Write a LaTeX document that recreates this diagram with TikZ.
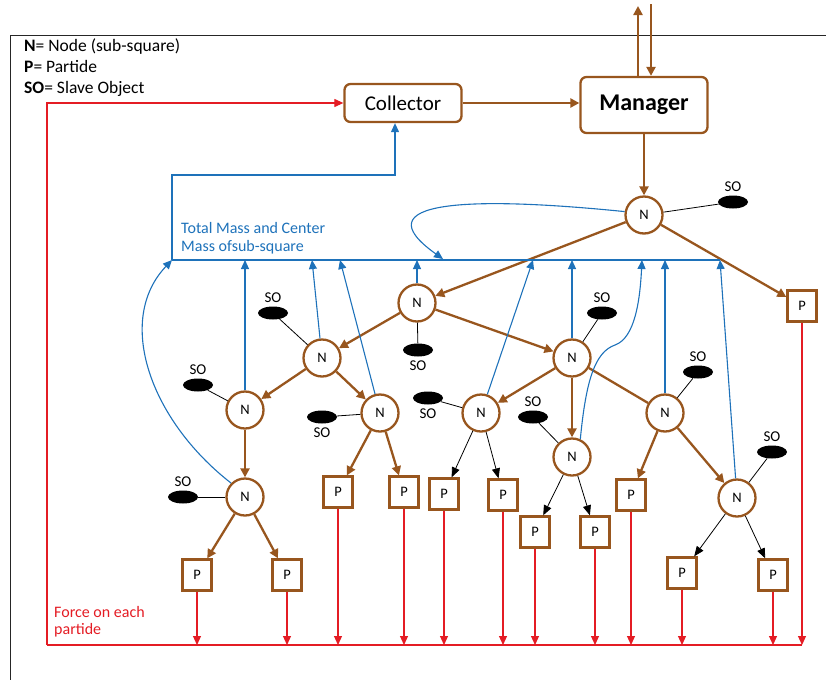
\documentclass[tikz,border=0pt]{standalone}
\usepackage{fontspec}
\setmainfont{Carlito}
\usetikzlibrary{arrows.meta,shapes.geometric}

\definecolor{nodeBrown}{RGB}{152,86,30}
\definecolor{massBlue}{RGB}{30,114,186}
\definecolor{forceRed}{RGB}{228,28,36}

\tikzset{
	treeNode/.style={circle, draw=nodeBrown, line width=2.3pt, fill=white, minimum size=37pt, inner sep=0pt, font=\fontsize{14.5}{14.5}\selectfont},
	partBox/.style={rectangle, draw=nodeBrown, line width=2.3pt, fill=white, minimum width=29pt, minimum height=31pt, inner sep=0pt, font=\fontsize{14.5}{14.5}\selectfont},
	slaveBlob/.style={ellipse, fill=black, minimum width=30pt, minimum height=13pt, inner sep=0pt},
	slaveLabel/.style={font=\fontsize{15}{15}\selectfont, inner sep=0pt},
	slaveLine/.style={draw=black, line width=0.8pt},
	brownArrow/.style={draw=nodeBrown, line width=2.3pt, -{Triangle[length=9pt,width=9pt]}},
	brownLine/.style={draw=nodeBrown, line width=2.3pt},
	blackArrow/.style={draw=black, line width=0.8pt, -{Triangle[length=10pt,width=8pt]}},
	blueArrow/.style={draw=massBlue, line width=1.1pt, -{Triangle[length=9pt,width=8pt]}},
	redArrow/.style={draw=forceRed, line width=1.1pt, -{Triangle[length=9pt,width=8pt]}},
	mainBox/.style={rectangle, rounded corners=6pt, draw=nodeBrown, line width=2.3pt, fill=white}
}

\begin{document}
\begin{tikzpicture}[x=1pt, y=-1pt]
	\useasboundingbox (0,0) rectangle (826,680);
	\draw[line width=0.9pt, black!85] (826,35) -- (10,35) -- (10,680);

	% legend
	\node[anchor=north west, align=left, inner sep=0pt, font=\fontsize{17.5}{21}\selectfont](legend) at (24,38){\textbf{N}= Node (sub-square)\\\textbf{P}= Partide\\\textbf{SO}= Slave Object};

	% draw collector and manager
	\node[mainBox, minimum width=117pt, minimum height=38pt, font=\fontsize{21}{21}\selectfont](collector) at (403,103){Collector};
	\node[mainBox, minimum width=127pt, minimum height=56pt, font=\fontsize{24}{24}\selectfont\bfseries](manager) at (644,105){Manager};
	\coordinate(outTop) at (638,6);
	\coordinate(inTop) at (651,4);
	\draw[brownArrow] (manager.north -| outTop) -- (outTop);
	\draw[brownArrow] (inTop) -- (manager.north -| inTop);
	\draw[brownArrow] (collector.east) -- (collector.east -| manager.west);

	% draw N nodes
	\node[treeNode](n0) at (644,215){N};
	\node[treeNode](n1) at (417,303){N};
	\node[treeNode](n2) at (322,358){N};
	\node[treeNode](n3) at (572,358){N};
	\node[treeNode](n4) at (245,410){N};
	\node[treeNode](n5) at (245,497){N};
	\node[treeNode](n6) at (380,413){N};
	\node[treeNode](n7) at (481,413){N};
	\node[treeNode](n8) at (572,457){N};
	\node[treeNode](n9) at (665,413){N};
	\node[treeNode](n10) at (737,498){N};

	% draw P boxes
	\node[partBox](p0) at (802,306){P};
	\node[partBox](p1) at (197,575){P};
	\node[partBox](p2) at (287,575){P};
	\node[partBox](p3) at (338,492){P};
	\node[partBox](p4) at (404,492){P};
	\node[partBox](p5) at (444,494){P};
	\node[partBox](p6) at (503,495){P};
	\node[partBox](p7) at (535,532){P};
	\node[partBox](p8) at (595,532){P};
	\node[partBox](p9) at (631,495){P};
	\node[partBox](p10) at (682,573){P};
	\node[partBox](p11) at (773,575){P};

	% draw slave objects
	\node[slaveBlob, label={[slaveLabel, label distance=4pt]above:SO}](so0) at (733,202){};
	\node[slaveBlob, label={[slaveLabel, label distance=4pt]below:SO}](so1) at (418,350){};
	\node[slaveBlob, label={[slaveLabel, label distance=4pt]above:SO}](so2) at (273,313){};
	\node[slaveBlob, label={[slaveLabel, label distance=4pt]above:SO}](so3) at (602,313){};
	\node[slaveBlob, label={[slaveLabel, label distance=4pt]above:SO}](so4) at (198,385){};
	\node[slaveBlob, label={[slaveLabel, label distance=4pt]above:SO}](so5) at (183,497){};
	\node[slaveBlob, label={[slaveLabel, label distance=4pt]below:SO}](so6) at (322,417){};
	\node[slaveBlob, label={[slaveLabel, label distance=4pt]below:SO}](so7) at (428,398){};
	\node[slaveBlob, label={[slaveLabel, label distance=4pt]above:SO}](so8) at (533,417){};
	\node[slaveBlob, label={[slaveLabel, label distance=4pt]above:SO}](so9) at (698,372){};
	\node[slaveBlob, label={[slaveLabel, label distance=4pt]above:SO}](so10) at (772,452){};
	\draw[slaveLine] (n0) -- (so0);
	\draw[slaveLine] (n1) -- (so1);
	\draw[slaveLine] (n2) -- (so2);
	\draw[slaveLine] (n3) -- (so3);
	\draw[slaveLine] (n4) -- (so4);
	\draw[slaveLine] (n5) -- (so5);
	\draw[slaveLine] (n6) -- (so6);
	\draw[slaveLine] (n7) -- (so7);
	\draw[slaveLine] (n8) -- (so8);
	\draw[slaveLine] (n9) -- (so9);
	\draw[slaveLine] (n10) -- (so10);

	% draw tree edges
	\draw[brownArrow] (manager.south) -- (n0);
	\draw[brownArrow] (n0) -- (n1);
	\draw[brownArrow] (n0) -- (p0);
	\draw[brownArrow] (n1) -- (n2);
	\draw[brownArrow] (n1) -- (n3);
	\draw[brownArrow] (n2) -- (n4);
	\draw[brownArrow] (n2) -- (n6);
	\draw[brownArrow] (n4) -- (n5);
	\draw[brownArrow] (n5) -- (p1);
	\draw[brownArrow] (n5) -- (p2);
	\draw[brownArrow] (n6) -- (p3);
	\draw[brownArrow] (n6) -- (p4);
	\draw[brownArrow] (n3) -- (n7);
	\draw[brownArrow] (n3) -- (n8);
	\draw[brownLine] (n3) -- (n9);
	\draw[blackArrow] (n7) -- (p5);
	\draw[blackArrow] (n7) -- (p6);
	\draw[blackArrow] (n8) -- (p7);
	\draw[blackArrow] (n8) -- (p8);
	\draw[brownArrow] (n9) -- (p9);
	\draw[brownArrow] (n9) -- (n10);
	\draw[blackArrow] (n10) -- (p10);
	\draw[blackArrow] (n10) -- (p11);

	% total mass and center of mass
	\coordinate(busLeft) at (172,260);
	\coordinate(busRight) at (720,260);
	\coordinate(busCorner) at (172,175);
	\coordinate(massTip0) at (443,259);
	\coordinate(massTip2) at (312,260);
	\coordinate(massTip6) at (340,260);
	\coordinate(massTip7) at (533,260);
	\coordinate(massTip8) at (642,260);
	\draw[massBlue, line width=1.1pt] (busLeft) -- (busRight);
	\draw[blueArrow] (busLeft) -- (busCorner) -| ([xshift=-8pt]collector.south);
	\node[anchor=north west, align=left, inner sep=0pt, text=massBlue, font=\fontsize{16}{18}\selectfont](massLabel) at (181,222){Total Mass and Center\\Mass ofsub-square};
	\draw[blueArrow] (n0.170) .. controls (470,196) and (360,200) .. (massTip0);
	\draw[blueArrow] (n5.135) .. controls (150,420) and (115,320) .. (busLeft);
	\draw[blueArrow] (n4.north) -- (n4.north |- busLeft);
	\draw[blueArrow] (n2) -- (massTip2);
	\draw[blueArrow] (n6) -- (massTip6);
	\draw[blueArrow] (n1.north) -- (n1.north |- busLeft);
	\draw[blueArrow] (n7) -- (massTip7);
	\draw[blueArrow] (n3.north) -- (n3.north |- busLeft);
	\draw[blueArrow] (n8.65) .. controls (586,380) and (595,352) .. (615,345) .. controls (635,338) and (640,300) .. (massTip8);
	\draw[blueArrow] (n9.north) -- (n9.north |- busLeft);
	\draw[blueArrow] (n10) -- (busRight);

	% force on each particle
	\coordinate(forceLeft) at (47,645);
	\draw[forceRed, line width=1.1pt] (forceLeft) -- (forceLeft -| p0);
	\draw[redArrow] (forceLeft) |- (collector.west);
	\node[anchor=north west, align=left, inner sep=0pt, text=forceRed, font=\fontsize{16}{17}\selectfont](forceLabel) at (54,606){Force on each\\partide};
	\draw[redArrow] (p0) -- (p0 |- forceLeft);
	\draw[redArrow] (p1) -- (p1 |- forceLeft);
	\draw[redArrow] (p2) -- (p2 |- forceLeft);
	\draw[redArrow] (p3) -- (p3 |- forceLeft);
	\draw[redArrow] (p4) -- (p4 |- forceLeft);
	\draw[redArrow] (p5) -- (p5 |- forceLeft);
	\draw[redArrow] (p6) -- (p6 |- forceLeft);
	\draw[redArrow] (p7) -- (p7 |- forceLeft);
	\draw[redArrow] (p8) -- (p8 |- forceLeft);
	\draw[redArrow] (p9) -- (p9 |- forceLeft);
	\draw[redArrow] (p10) -- (p10 |- forceLeft);
	\draw[redArrow] (p11) -- (p11 |- forceLeft);
\end{tikzpicture}
\end{document}
